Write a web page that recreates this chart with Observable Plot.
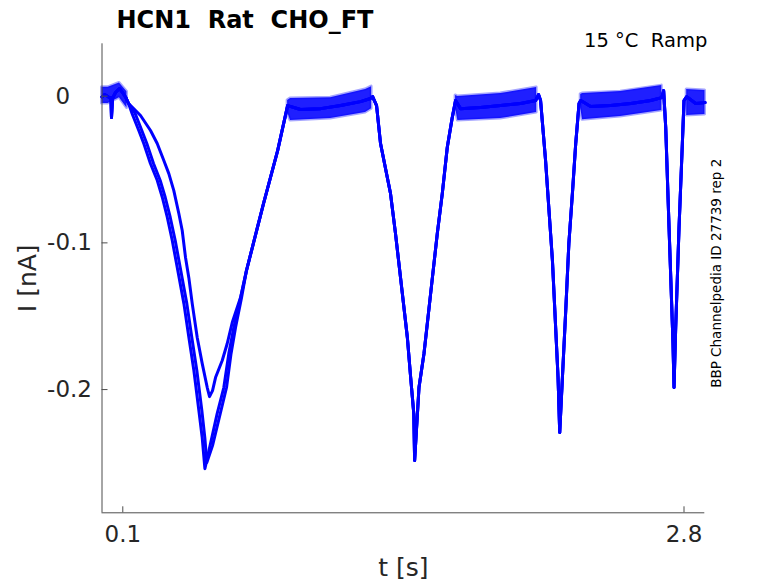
<!DOCTYPE html>
<html><head><meta charset="utf-8">
<script src="https://cdn.jsdelivr.net/npm/d3@7"></script>
<script src="https://cdn.jsdelivr.net/npm/@observablehq/plot@0.6"></script>
<style>body{margin:0;background:#fff}#chart svg{display:block}</style>
</head><body><div id="chart"></div>
<script>
// ---- data (time in s, current in nA) ----
const title = "HCN1\u00a0 Rat\u00a0 CHO_FT";
const conditionLabel = "15 \u00b0C\u00a0 Ramp";
const sourceLabel = "BBP Channelpedia ID 27739 rep 2";
const xLabel = "t [s]";
const yLabel = "I [nA]";
const xDomain = [0, 2.9];
const yDomain = [-0.284, 0.0357];
const xTicks = [0.1, 2.8];
const xTickLabels = ["0.1", "2.8"];
const yTicks = [0, -0.1, -0.2];
const yTickLabels = ["0\u2008\u2007", "-0.1", "-0.2"];

// common start of all sweeps
const startTime    = [0, 0.012, 0.022, 0.035, 0.043, 0.0457, 0.0505, 0.065, 0.084, 0.099, 0.115, 0.128];
const startCurrent = [-0.0005, 0.001, 0.0004, -0.001, -0.001, -0.0146, -0.0016, 0.0025, 0.0052, 0.0025, -0.001, -0.005];

// first trough, three sweeps
const troughTimeA    = [0.145, 0.177, 0.201, 0.233, 0.266, 0.290, 0.314, 0.338, 0.362, 0.394, 0.418, 0.442, 0.466, 0.482, 0.495, 0.522, 0.554, 0.586, 0.610, 0.634, 0.667];
const troughCurrentA = [-0.012, -0.0234, -0.0323, -0.0459, -0.0575, -0.0689, -0.0825, -0.0984, -0.1168, -0.1414, -0.1645, -0.1870, -0.2143, -0.2327, -0.2539, -0.2368, -0.2164, -0.1986, -0.1755, -0.1577, -0.1373];
const troughTimeB    = [0.160, 0.1915, 0.2156, 0.2478, 0.2801, 0.3041, 0.3282, 0.3523, 0.3763, 0.4081, 0.4321, 0.4562, 0.4803, 0.4947, 0.5043, 0.5318, 0.5688, 0.5991, 0.6208, 0.6425, 0.6713];
const troughCurrentB = [-0.012, -0.0234, -0.0323, -0.0459, -0.0575, -0.0689, -0.0825, -0.0984, -0.1168, -0.1414, -0.1645, -0.1870, -0.2143, -0.2327, -0.2498, -0.2382, -0.2164, -0.1986, -0.1755, -0.1577, -0.1373];
const troughTimeC    = [0.1853, 0.2334, 0.2656, 0.2974, 0.3215, 0.3455, 0.3696, 0.3859, 0.4018, 0.4177, 0.4341, 0.4581, 0.4822, 0.5063, 0.5173, 0.5318, 0.5462, 0.5784, 0.6025, 0.6266, 0.6665];
const troughCurrentC = [-0.0132, -0.0234, -0.0323, -0.0439, -0.0528, -0.0644, -0.0800, -0.0916, -0.1100, -0.1237, -0.1414, -0.1645, -0.1823, -0.1986, -0.2048, -0.2007, -0.1918, -0.1802, -0.1686, -0.1543, -0.1373];

// remainder, where the sweeps overlap
const sharedTime = [0.695, 0.777, 0.845, 0.893, 0.955, 1.052, 1.148, 1.244, 1.292, 1.302, 1.321, 1.340, 1.388, 1.412, 1.445, 1.469, 1.485, 1.500, 1.504, 1.525, 1.549, 1.581, 1.613, 1.637, 1.661, 1.685, 1.701, 1.725, 1.821, 1.918, 2.014, 2.086, 2.100, 2.110, 2.134, 2.167, 2.194, 2.202, 2.215, 2.231, 2.246, 2.263, 2.279, 2.295, 2.303, 2.351, 2.447, 2.544, 2.640, 2.693, 2.702, 2.712, 2.728, 2.747, 2.752, 2.760, 2.776, 2.792, 2.800, 2.813, 2.856, 2.901];
const sharedCurrent = [-0.1189, -0.0732, -0.0371, -0.0064, -0.0091, -0.0085, -0.0064, -0.0037, -0.0016, -0.0003, -0.0064, -0.0323, -0.0664, -0.0937, -0.1346, -0.1645, -0.1918, -0.2164, -0.2484, -0.1986, -0.1755, -0.1346, -0.0937, -0.0664, -0.0350, -0.0146, -0.003, -0.0085, -0.0078, -0.0064, -0.005, -0.003, 0.0011, -0.003, -0.0439, -0.1121, -0.1918, -0.2293, -0.1918, -0.1461, -0.1005, -0.0664, -0.0323, -0.005, -0.003, -0.0071, -0.0064, -0.005, -0.003, -0.001, 0.0038, -0.0214, -0.0896, -0.1686, -0.1986, -0.1577, -0.0896, -0.0323, -0.003, -0.0003, -0.005, -0.0044];

// noise envelope of the flat segments
const bandSegment = [0, 0, 0, 0, 1, 1, 1, 1, 1, 2, 2, 2, 2, 3, 3, 3, 3, 4, 4];
const bandTime    = [0, 0.03, 0.084, 0.12, 0.893, 0.907, 1.100, 1.268, 1.297, 1.701, 1.712, 1.918, 2.091, 2.303, 2.312, 2.495, 2.693, 2.813, 2.901];
const bandHigh    = [0.006, 0.006, 0.009, 0.003, -0.003, -0.0016, -0.001, 0.0045, 0.0065, 0.0005, -0.0003, 0.0018, 0.0059, 0.0012, 0.0018, 0.0031, 0.0072, 0.0045, 0.0038];
const bandLow     = [-0.005, -0.005, -0.001, -0.008, -0.011, -0.0166, -0.0153, -0.0112, -0.0085, -0.008, -0.0166, -0.0153, -0.0112, -0.008, -0.016, -0.0139, -0.0098, -0.0132, -0.0125];

// ---- build tables ----
const sweeps = [
  {name: "sweep 1", time: [...startTime, ...troughTimeA, ...sharedTime], current: [...startCurrent, ...troughCurrentA, ...sharedCurrent]},
  {name: "sweep 2", time: [...startTime, ...troughTimeB, ...sharedTime], current: [...startCurrent, ...troughCurrentB, ...sharedCurrent]},
  {name: "sweep 3", time: [...startTime, ...troughTimeC, ...sharedTime], current: [...startCurrent, ...troughCurrentC, ...sharedCurrent]}
];
const traceRows = sweeps.flatMap(s => s.time.map((t, i) => ({sweep: s.name, t, I: s.current[i]})));
const bandRows = bandTime.map((t, i) => ({seg: bandSegment[i], t, lo: bandLow[i], hi: bandHigh[i]}));

const W = 778, H = 583;
const mL = 101.5, mR = 73.7, mT = 43.3, mB = 70.7;
const frameW = W - mL - mR, frameH = H - mT - mB;
const axisColor = "#4d4d4d", textColor = "#262626", blue = "#0000ff";

const chart = Plot.plot({
  width: W, height: H,
  marginLeft: mL, marginRight: mR, marginTop: mT, marginBottom: mB,
  style: {fontFamily: "'DejaVu Sans', sans-serif", background: "#fff", overflow: "visible"},
  x: {domain: xDomain, axis: null},
  y: {domain: yDomain, axis: null},
  marks: [
    Plot.areaY(bandRows, {x: "t", y1: "lo", y2: "hi", z: "seg", fill: blue, fillOpacity: 0.88, stroke: blue, strokeOpacity: 0.35, strokeWidth: 3, curve: "linear"}),
    Plot.line(traceRows, {x: "t", y: "I", z: "sweep", stroke: blue, strokeWidth: 3, strokeLinejoin: "round"}),
    Plot.ruleX([xDomain[0]], {stroke: axisColor, strokeWidth: 1}),
    Plot.ruleY([yDomain[0]], {stroke: axisColor, strokeWidth: 1}),
    Plot.tickX(xTicks, {x: d => d, insetTop: frameH - 6, stroke: axisColor}),
    Plot.tickY(yTicks, {y: d => d, insetRight: frameW - 6, stroke: axisColor}),
    Plot.text(xTicks, {x: d => d, text: (d, i) => xTickLabels[i], frameAnchor: "bottom", dy: 12.5, lineAnchor: "top", textAnchor: "middle", fontSize: 23, fill: textColor}),
    Plot.text(yTicks, {y: d => d, text: (d, i) => yTickLabels[i], frameAnchor: "left", dx: -10, lineAnchor: "middle", textAnchor: "end", fontSize: 23, fill: textColor}),
    Plot.text([xLabel], {text: d => d, frameAnchor: "bottom", dy: 62.7, lineAnchor: "bottom", textAnchor: "middle", fontSize: 25, fill: textColor}),
    Plot.text([yLabel], {text: d => d, frameAnchor: "left", dx: -66.5, rotate: -90, lineAnchor: "bottom", textAnchor: "middle", fontSize: 25, fill: textColor}),
    Plot.text([title], {text: d => d, frameAnchor: "top-left", dx: 14.5, dy: -16, lineAnchor: "bottom", textAnchor: "start", fontSize: 24, fontWeight: "bold", fill: "#000"}),
    Plot.text([conditionLabel], {text: d => d, frameAnchor: "top-right", dx: 2.5, dy: 2.7, lineAnchor: "bottom", textAnchor: "end", fontSize: 19.5, fill: "#000"}),
    Plot.text([sourceLabel], {text: d => d, frameAnchor: "right", dx: 16.2, dy: -5, rotate: -90, lineAnchor: "bottom", textAnchor: "middle", fontSize: 13.5, fill: "#000"})
  ]
});
document.getElementById("chart").appendChild(chart);
</script>
</body></html>
